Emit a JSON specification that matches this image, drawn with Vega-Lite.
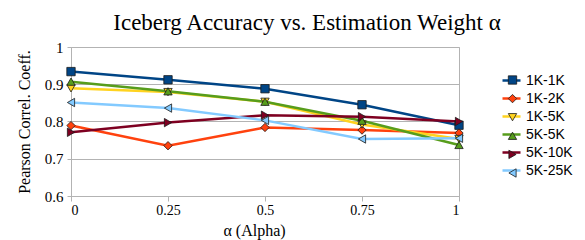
{
  "$schema": "https://vega.github.io/schema/vega-lite/v6.json",
  "width": 388,
  "height": 149,
  "autosize": "none",
  "padding": {"left": 71, "top": 47, "right": 126, "bottom": 44},
  "background": "white",
  "view": {"stroke": "#b3b3b3", "strokeWidth": 1},
  "title": {
    "text": "Iceberg Accuracy vs. Estimation Weight α",
    "font": "Liberation Serif",
    "fontSize": 23,
    "fontWeight": "normal",
    "color": "#000000",
    "anchor": "middle",
    "frame": "group",
    "dx": 42,
    "offset": 5
  },
  "data": {
    "values": [
      {"a": 0, "v": 0.934, "s": "1K-1K"},
      {"a": 0.25, "v": 0.912, "s": "1K-1K"},
      {"a": 0.5, "v": 0.888, "s": "1K-1K"},
      {"a": 0.75, "v": 0.845, "s": "1K-1K"},
      {"a": 1, "v": 0.79, "s": "1K-1K"},
      {"a": 0, "v": 0.789, "s": "1K-2K"},
      {"a": 0.25, "v": 0.735, "s": "1K-2K"},
      {"a": 0.5, "v": 0.784, "s": "1K-2K"},
      {"a": 0.75, "v": 0.777, "s": "1K-2K"},
      {"a": 1, "v": 0.769, "s": "1K-2K"},
      {"a": 0, "v": 0.889, "s": "1K-5K"},
      {"a": 0.25, "v": 0.879, "s": "1K-5K"},
      {"a": 0.5, "v": 0.853, "s": "1K-5K"},
      {"a": 0.75, "v": 0.792, "s": "1K-5K"},
      {"a": 1, "v": 0.753, "s": "1K-5K"},
      {"a": 0, "v": 0.907, "s": "5K-5K"},
      {"a": 0.25, "v": 0.881, "s": "5K-5K"},
      {"a": 0.5, "v": 0.853, "s": "5K-5K"},
      {"a": 0.75, "v": 0.802, "s": "5K-5K"},
      {"a": 1, "v": 0.737, "s": "5K-5K"},
      {"a": 0, "v": 0.771, "s": "5K-10K"},
      {"a": 0.25, "v": 0.797, "s": "5K-10K"},
      {"a": 0.5, "v": 0.817, "s": "5K-10K"},
      {"a": 0.75, "v": 0.813, "s": "5K-10K"},
      {"a": 1, "v": 0.8, "s": "5K-10K"},
      {"a": 0, "v": 0.851, "s": "5K-25K"},
      {"a": 0.25, "v": 0.836, "s": "5K-25K"},
      {"a": 0.5, "v": 0.803, "s": "5K-25K"},
      {"a": 0.75, "v": 0.753, "s": "5K-25K"},
      {"a": 1, "v": 0.755, "s": "5K-25K"}
    ]
  },
  "encoding": {
    "x": {
      "field": "a",
      "type": "quantitative",
      "scale": {"domain": [0, 1], "nice": false, "zero": false},
      "axis": {
        "title": "α (Alpha)",
        "titleX": 183,
        "values": [0, 0.25, 0.5, 0.75, 1],
        "format": ".2~f",
        "grid": false,
        "domainColor": "#b3b3b3",
        "tickColor": "#b3b3b3",
        "tickSize": 5,
        "labelFont": "Liberation Serif",
        "labelFontSize": 14,
        "labelColor": "#000000",
        "labelPadding": 2,
        "titleFont": "Liberation Serif",
        "titleFontSize": 16,
        "titleFontWeight": "normal",
        "titleColor": "#000000",
        "titlePadding": 5
      }
    },
    "y": {
      "field": "v",
      "type": "quantitative",
      "scale": {"domain": [0.6, 1], "nice": false, "zero": false},
      "axis": {
        "title": "Pearson Correl. Coeff.",
        "values": [0.6, 0.7, 0.8, 0.9, 1],
        "format": ".1~f",
        "grid": true,
        "gridColor": "#b3b3b3",
        "domainColor": "#b3b3b3",
        "tickColor": "#b3b3b3",
        "tickSize": 4,
        "labelFont": "Liberation Serif",
        "labelFontSize": 15,
        "labelColor": "#000000",
        "labelPadding": 4,
        "titleFont": "Liberation Serif",
        "titleFontSize": 16,
        "titleFontWeight": "normal",
        "titleColor": "#000000",
        "titlePadding": 12
      }
    }
  },
  "layer": [
    {
      "mark": {"type": "line", "strokeWidth": 2.5},
      "encoding": {
        "stroke": {
          "field": "s",
          "type": "nominal",
          "sort": ["1K-1K", "1K-2K", "1K-5K", "5K-5K", "5K-10K", "5K-25K"],
          "scale": {
            "range": ["#004586", "#ff420e", "#ffd320", "#579d1c", "#7e0021", "#83caff"]
          },
          "legend": {
            "title": null,
            "orient": "none",
            "legendX": 430,
            "legendY": 23,
            "padding": 0,
            "symbolType": "stroke",
            "symbolSize": 324,
            "symbolStrokeWidth": 2.5,
            "labelFont": "Liberation Sans",
            "labelFontSize": 14,
            "labelColor": "#000000",
            "labelOffset": 4,
            "rowPadding": 0,
            "zindex": 1
          }
        }
      }
    },
    {
      "mark": {"type": "point", "filled": true, "size": 70, "stroke": "#1a1a1a", "strokeWidth": 0.8, "opacity": 1},
      "encoding": {
        "color": {
          "field": "s",
          "type": "nominal",
          "scale": {
            "domain": ["1K-1K", "1K-2K", "1K-5K", "5K-5K", "5K-10K", "5K-25K"],
            "range": ["#004586", "#ff420e", "#ffd320", "#579d1c", "#7e0021", "#83caff"]
          },
          "legend": {
            "title": null,
            "orient": "none",
            "legendX": 430,
            "legendY": 26,
            "padding": 0,
            "symbolSize": 70,
            "symbolStrokeColor": "#1a1a1a",
            "symbolStrokeWidth": 0.8,
            "symbolOffset": 4.5,
            "labelExpr": "''",
            "labelFont": "Liberation Sans",
            "labelFontSize": 14,
            "labelOffset": 3,
            "rowPadding": 4.6,
            "zindex": 2
          }
        },
        "shape": {
          "field": "s",
          "type": "nominal",
          "scale": {
            "domain": ["1K-1K", "1K-2K", "1K-5K", "5K-5K", "5K-10K", "5K-25K"],
            "range": ["square", "diamond", "triangle-down", "triangle-up", "triangle-right", "triangle-left"]
          }
        }
      }
    }
  ]
}
